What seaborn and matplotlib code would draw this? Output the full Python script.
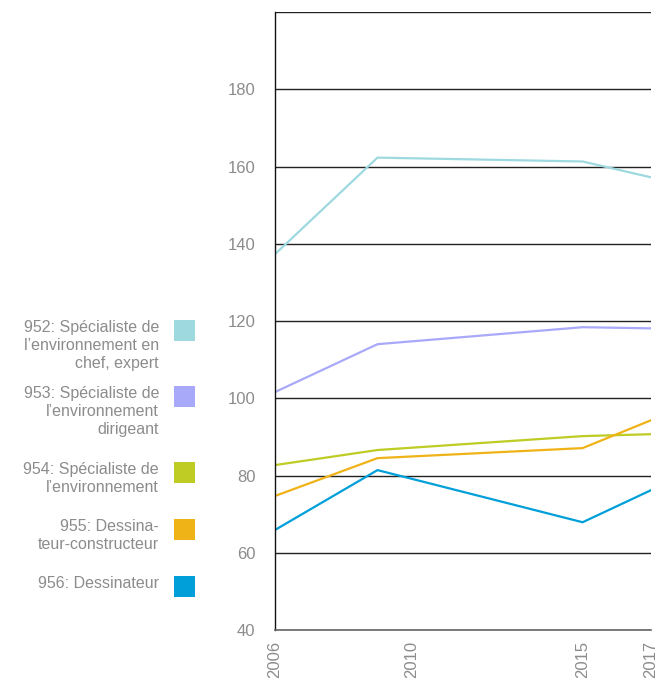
import pandas as pd
import matplotlib.pyplot as plt
import seaborn as sns
from matplotlib.patches import Rectangle

# Data
years = [2006, 2009, 2015, 2017]
labels = [
    "952: Spécialiste de\nl’environnement en\nchef, expert",
    "953: Spécialiste de\nl’environnement\ndirigeant",
    "954: Spécialiste de\nl’environnement",
    "955: Dessina-\nteur-constructeur",
    "956: Dessinateur",
]
s952 = [137.3, 162.3, 161.3, 157.2]
s953 = [101.6, 114.0, 118.4, 118.1]
s954 = [82.7, 86.6, 90.2, 90.7]
s955 = [74.7, 84.5, 87.1, 94.3]
s956 = [65.9, 81.4, 67.9, 76.2]
colors = ["#9ED9E0", "#A9A9F9", "#BECC23", "#F0B317", "#009FDA"]

x_ticks = list(range(2006, 2018))
x_labels = ["2006", "2010", "2015", "2017"]
y_ticks = [40, 60, 80, 100, 120, 140, 160, 180, 200]

series = [s952, s953, s954, s955, s956]
rows = []
for lab, vals in zip(labels, series):
    for yr, v in zip(years, vals):
        rows.append({"Year": yr, "Value": v, "Group": lab})
df = pd.DataFrame(rows)

sns.set_style("white")
plt.rcParams['font.family'] = ['Liberation Sans', 'DejaVu Sans']

fig = plt.figure(figsize=(6.7, 6.86), dpi=100)
ax = fig.add_axes([0.4104, 0.0816, 0.5612, 0.9009])

sns.lineplot(data=df, x="Year", y="Value", hue="Group", palette=colors,
             hue_order=labels, linewidth=1.6, legend=False, ax=ax)

ax.set_xlim(2006, 2017)
ax.set_ylim(40, 200)
ax.set_xticks(x_ticks)
ax.set_xticklabels([str(t) if str(t) in x_labels else "" for t in x_ticks],
                   rotation=90, color="#8c8c8c", fontsize=12)
ax.set_yticks(y_ticks)
ax.set_yticklabels([str(t) if t < 200 else "" for t in y_ticks],
                   color="#8c8c8c", fontsize=12)
ax.tick_params(axis="x", length=6, width=1, color="#555555", pad=2, direction="out")
ax.tick_params(axis="y", length=0, pad=14)
ax.yaxis.grid(True, color="#222222", linewidth=1)
ax.set_axisbelow(True)
ax.set_xlabel("")
ax.set_ylabel("")
for side in ["right", "top"]:
    ax.spines[side].set_visible(False)
ax.spines["left"].set_color("#111111")
ax.spines["left"].set_linewidth(1)
ax.spines["bottom"].set_color("#666666")
ax.spines["bottom"].set_linewidth(1.2)

# Legend on the left: right-aligned text with colour squares
W, H = 670.0, 686.0
sq_tops = [320, 386, 462, 519, 576]
for lab, col, top in zip(labels, colors, sq_tops):
    fig.add_artist(Rectangle((174 / W, 1 - (top + 21) / H), 21 / W, 21 / H,
                             transform=fig.transFigure, color=col, lw=0))
    fig.text(159 / W, 1 - top / H, lab, ha="right", va="top",
             multialignment="right", color="#8c8c8c", fontsize=11.5,
             linespacing=1.27)

fig.savefig("out.png", dpi=100)
